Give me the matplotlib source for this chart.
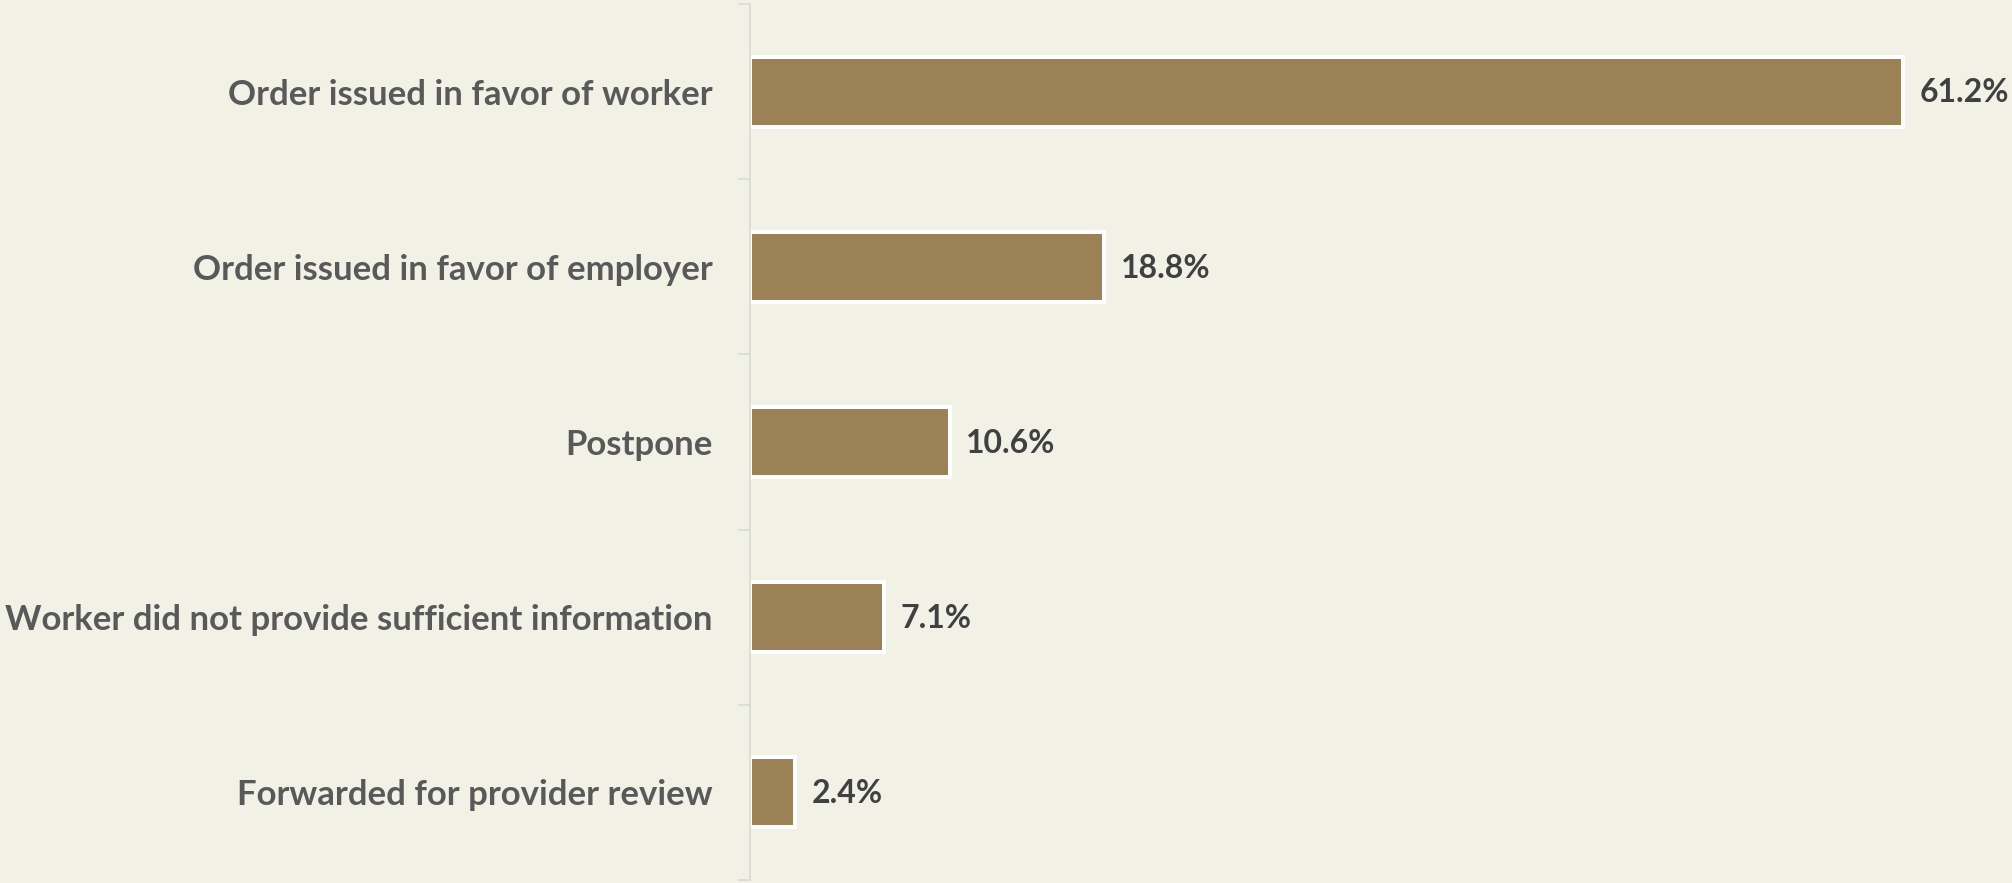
import numpy as np
import matplotlib.pyplot as plt
from matplotlib.ticker import FixedLocator

# Outcome categories and share of cases (%)
categories = [
    "Order issued in favor of worker",
    "Order issued in favor of employer",
    "Postpone",
    "Worker did not provide sufficient information",
    "Forwarded for provider review",
]
shares = [61.2, 18.8, 10.6, 7.1, 2.4]

bg = "#F2F1E6"
bar_color = "#9C8157"

plt.rcParams['font.family'] = ['Lato', 'DejaVu Sans']

fig = plt.figure(figsize=(20.12, 8.83), dpi=100, facecolor=bg)
ax = fig.add_axes([750 / 2012, 3 / 883, 1262 / 2012, 876 / 883])
ax.set_facecolor(bg)

y = np.arange(len(categories))
bars = ax.barh(y, shares, height=0.40, color=bar_color,
               edgecolor="white", linewidth=2.9)

for b, v in zip(bars, shares):
    ax.annotate(f"{v:.1f}%", (b.get_width(), b.get_y() + b.get_height() / 2),
                xytext=(12, -1), textcoords="offset points",
                va="center", ha="left", fontsize=23, fontweight="bold",
                color="#404040")

ax.set_xlim(0, 67)
ax.set_ylim(len(categories) - 0.5, -0.5)

# boundaries as major ticks, labels on minor ticks at bar centres
ax.yaxis.set_major_locator(FixedLocator(np.arange(-0.5, len(categories), 1.0)))
ax.yaxis.set_major_formatter(plt.NullFormatter())
ax.yaxis.set_minor_locator(FixedLocator(y))
ax.set_yticklabels(categories, minor=True, fontsize=25, fontweight="bold",
                   color="#595959")
ax.tick_params(axis="y", which="major", length=9, width=1.2, color="#D9D9D9")
ax.tick_params(axis="y", which="minor", length=0, pad=27)

ax.set_xticks([])
for s in ["top", "right", "bottom"]:
    ax.spines[s].set_visible(False)
ax.spines["left"].set_color("#D9D9D9")
ax.spines["left"].set_linewidth(1.2)

fig.savefig("out.png", dpi=100, facecolor=bg)
